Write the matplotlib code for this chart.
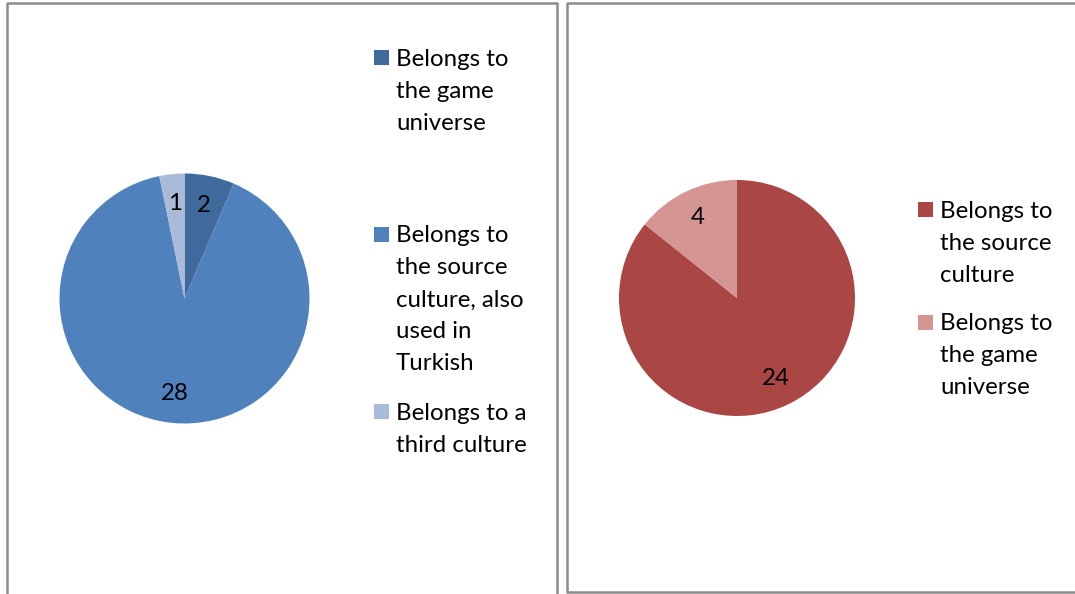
import matplotlib
matplotlib.use("Agg")
import matplotlib.pyplot as plt
from matplotlib.patches import Rectangle

plt.rcParams['font.family'] = ['Lato', 'DejaVu Sans']

# left chart
left_labels = ["Belongs to\nthe game\nuniverse",
               "Belongs to\nthe source\nculture, also\nused in\nTurkish",
               "Belongs to a\nthird culture"]
left_values = [2, 28, 1]
left_colors = ['#406a9c', '#4f81bd', '#aabbd9']

# right chart
right_labels = ["Belongs to\nthe source\nculture",
                "Belongs to\nthe game\nuniverse"]
right_values = [24, 4]
right_colors = ['#aa4643', '#d49593']

W, H = 1075, 594
FS = 17.3
LINE = 32
BORDER = '#8c8c8c'


def pie_axes(fig, cx, cy, r):
    # cx, cy, r in pixels (y from top)
    ax = fig.add_axes([(cx - r) / W, (H - cy - r) / H, 2 * r / W, 2 * r / H])
    return ax


def draw_pie(ax, values, colors):
    wedges, _, autotexts = ax.pie(values, colors=colors, startangle=90,
                                  counterclock=False, radius=1,
                                  autopct=lambda p: '%d' % round(p * sum(values) / 100.0),
                                  pctdistance=0.76,
                                  wedgeprops=dict(linewidth=0),
                                  textprops=dict(fontsize=FS, color='black'))
    ax.set_xlim(-1, 1)
    ax.set_ylim(-1, 1)
    return autotexts


def draw_legend(ov, labels, colors, sq_x, txt_x, first_ys):
    for lab, col, y0 in zip(labels, colors, first_ys):
        ov.add_patch(Rectangle((sq_x, y0 - 7.5), 15, 15, facecolor=col, edgecolor='none'))
        for i, line in enumerate(lab.split('\n')):
            ov.text(txt_x, y0 + 2 + i * LINE, line, fontsize=FS, va='center', ha='left', color='black')


fig = plt.figure(figsize=(W / 100, H / 100), dpi=100)

ov = fig.add_axes([0, 0, 1, 1])
ov.set_xlim(0, W)
ov.set_ylim(H, 0)
ov.axis('off')

# panel borders
ov.plot([7, 7, 557, 557], [600, 3, 3, 600], color=BORDER, lw=1.8, clip_on=False)
ov.plot([1080, 567, 567, 1080], [3, 3, 592, 592], color=BORDER, lw=1.8, clip_on=False)

ax1 = pie_axes(fig, 184.5, 298.5, 125)
draw_pie(ax1, left_values, left_colors)

ax2 = pie_axes(fig, 737, 298, 118)
draw_pie(ax2, right_values, right_colors)

draw_legend(ov, left_labels, left_colors, 374, 396, [57, 234, 411])
draw_legend(ov, right_labels, right_colors, 918, 940, [209, 322])

fig.savefig('out.png', dpi=100)
